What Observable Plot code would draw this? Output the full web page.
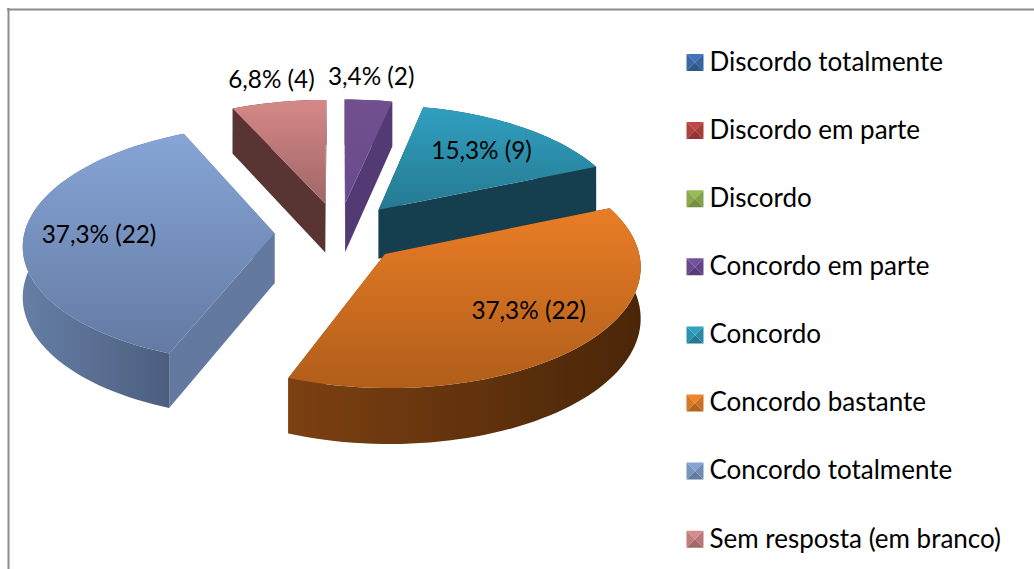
<!DOCTYPE html>
<html>
<head>
<meta charset="utf-8">
<script src="https://cdn.jsdelivr.net/npm/d3@7"></script>
<script src="https://cdn.jsdelivr.net/npm/@observablehq/plot@0.6"></script>
<style>
html,body{margin:0;padding:0;background:#fff;overflow:hidden}
svg{display:block}
g[aria-label="slice-shadow"]{filter:drop-shadow(2px 3px 3px rgba(0,0,0,.38))}
g[aria-label="rim"]{filter:blur(.7px)}
</style>
</head>
<body>
<div id="chart"></div>
<script>
const categories = ["Discordo totalmente","Discordo em parte","Discordo","Concordo em parte","Concordo","Concordo bastante","Concordo totalmente","Sem resposta (em branco)"];
const counts = [0,0,0,2,9,22,22,4];
const labels = ["","","","3,4% (2)","15,3% (9)","37,3% (22)","37,3% (22)","6,8% (4)"];
const labelRadius = [0,0,0,1.24,0.7,0.7,0.7,1.24];
const labelTurn = [0,0,0,-0.5,0,-4,0,0.6];
const swatchColors = ["#3f74b8","#c24744","#9abb55","#75509f","#30a2c0","#f08428","#86a4d2","#d68c8a"];
const topFrom = ["#4f81bd","#c0504d","#9bbb59","#72508f","#30a0c0","#ea7d26","#86a5d6","#d68888"];
const topTo   = ["#3a6cab","#a03c3a","#7f9a48","#694a8a","#257a92","#b05e1a","#647aa3","#a06666"];
const wallStart = ["#333","#333","#333","#533a74","#153f4f","#5a300e","#64799f","#583433"];
const wallEnd   = ["#333","#333","#333","#533a74","#153f4f","#7a3e10","#64799f","#583433"];
const outerStops = ["#333","#333","#333","#533a74","#153f4f","#7c4012","#667ea5","#583433"];
const outerStopsEnd = ["#333","#333","#333","#533a74","#153f4f","#4a2608","#495b7a","#583433"];
const rimColors = ["#fff","#fff","#fff","#7f5ea6","#3fb0d0","#ee8a30","#a2bce6","#e09a9a"];
const drawOrder = [7,3,4,6,5];

const W = 1034, H = 569;
const cx = 338, cy = 232, Rx = 250, Ry = 118, persp = 0.09, depth = 50, explode = 0.256, start = 0;
const degToRad = Math.PI / 180;

function project(u, v) {
  const s = 1 / (1 - persp * v);
  return {x: cx + Rx * u * s, y: cy + Ry * v * s, s};
}
const pie = d3.pie().sort(null).startAngle(start).endAngle(start + 2 * Math.PI)(counts);

const slices = pie.map((p, i) => {
  const mid = (p.startAngle + p.endAngle) / 2;
  const ou = explode * Math.sin(mid), ov = -explode * Math.cos(mid);
  const at = (a, r) => project(ou + r * Math.sin(a), ov - r * Math.cos(a));
  const n = Math.max(2, Math.ceil((p.endAngle - p.startAngle) / (2 * degToRad)));
  const arc = d3.range(n + 1).map(k => at(p.startAngle + (p.endAngle - p.startAngle) * k / n, 1));
  return {i, mid, apex: at(0, 0), arc, at};
});

const down = q => ({x: q.x, y: q.y + depth * q.s});
const face = pts => pts.map(q => ({x: q.x, y: q.y}));

const defs = () => {
  const d = d3.create("svg:defs");
  const grad = (id, vertical, a, b) => {
    const g = d.append("linearGradient").attr("id", id)
      .attr("x1", 0).attr("y1", 0).attr("x2", vertical ? 0 : 1).attr("y2", vertical ? 1 : 0);
    g.append("stop").attr("offset", 0).attr("stop-color", a);
    g.append("stop").attr("offset", 1).attr("stop-color", b);
  };
  categories.forEach((_, i) => {
    grad("top" + i, true, topFrom[i], topTo[i]);
    grad("out" + i, false, outerStops[i], outerStopsEnd[i]);
  });
  return d.node();
};

const poly = (pts, fill, extra = {}) => Plot.line(pts, {x: "x", y: "y", fill, stroke: "none", curve: "linear", ...extra});

const marks = [defs];
// outer frame
marks.push(Plot.ruleY([9], {x1: 7, x2: W, stroke: "#8c8c8c", strokeWidth: 2}));
marks.push(Plot.ruleX([8], {y1: 8, y2: H, stroke: "#8c8c8c", strokeWidth: 2}));

for (const i of drawOrder) {
  const s = slices[i];
  const {apex, arc} = s;
  const first = arc[0], last = arc[arc.length - 1];
  // silhouette with shadow behind the whole slice
  marks.push(poly(face([down(apex), ...arc.map(down)]), wallEnd[i], {ariaLabel: "slice-shadow"}));
  marks.push(poly(face([apex, first, down(first), down(apex)]), wallStart[i]));
  marks.push(poly(face([apex, last, down(last), down(apex)]), wallEnd[i]));
  marks.push(poly(face([...arc, ...arc.slice().reverse().map(down)]), `url(#out${i})`));
  marks.push(poly(face([apex, ...arc]), `url(#top${i})`));
  marks.push(Plot.line(face(arc), {x: "x", y: "y", stroke: rimColors[i], strokeWidth: 2, ariaLabel: "rim"}));
}

// data labels, placed from the slice geometry
const labelRows = slices.filter(s => counts[s.i] > 0).map(s => {
  const q = s.at(s.mid + labelTurn[s.i] * degToRad, labelRadius[s.i]);
  return {x: q.x, y: q.y, t: labels[s.i]};
});
marks.push(Plot.text(labelRows, {x: "x", y: "y", text: "t", fontSize: 24.3, fontFamily: "Lato", fill: "#000"}));

// legend
const legendX = 709, swatchLeft = 686, swatchSize = 17, legendTop = 62, legendStep = 68.1;
const legendRows = categories.map((c, i) => ({c, i, y: legendTop + i * legendStep}));
for (const r of legendRows) {
  const base = d3.color(swatchColors[r.i]);
  const l = swatchLeft, t = r.y - swatchSize / 2, e = swatchSize;
  const mid = {x: l + e / 2, y: t + e / 2};
  const tl = {x: l, y: t}, tr = {x: l + e, y: t}, br = {x: l + e, y: t + e}, bl = {x: l, y: t + e};
  marks.push(poly([tl, tr, mid], base.formatHex()));
  marks.push(poly([tl, bl, mid], base.darker(0.3).formatHex()));
  marks.push(poly([tr, br, mid], base.darker(0.45).formatHex()));
  marks.push(poly([bl, br, mid], base.darker(0.8).formatHex()));
}
marks.push(Plot.text(legendRows, {x: legendX, y: "y", text: "c", textAnchor: "start", fontSize: 26, fontFamily: "Lato", fill: "#000"}));

const chart = Plot.plot({
  width: W, height: H, margin: 0,
  x: {domain: [0, W], range: [0, W], axis: null},
  y: {domain: [0, H], range: [0, H], axis: null},
  style: {background: "#fff"},
  marks
});
document.getElementById("chart").append(chart);
</script>
</body>
</html>
